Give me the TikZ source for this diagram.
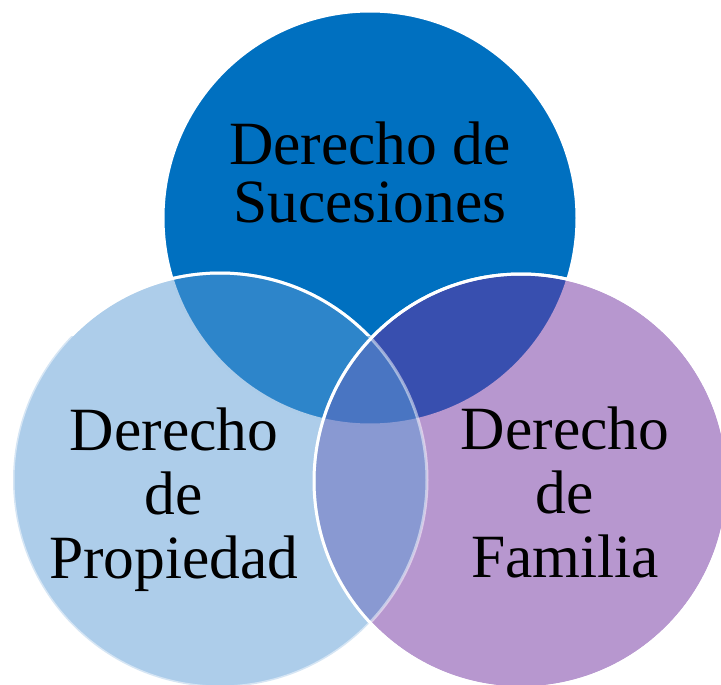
\documentclass[tikz,border=0pt]{standalone}
\usepackage{fontspec}
\setmainfont{Liberation Serif}
\definecolor{sucblue}{HTML}{0070C0}
\definecolor{propblue}{HTML}{5B9BD5}
\definecolor{fampurple}{HTML}{7030A0}
\begin{document}
\begin{tikzpicture}[x=1pt, y=-1pt,
      set/.style={circle, minimum size=414pt, inner sep=0pt, draw=white, line width=3pt},
      rim/.style={white, line width=3pt},
      normal/.style={black, align=center, inner sep=0pt},
      top text/.style={normal, font=\fontsize{61.5}{58}\selectfont},
      side text/.style={normal, font=\fontsize{61.5}{64}\selectfont}]
    \useasboundingbox (0,0) rectangle (721,685);
    % the three sets
    \node[set, fill=sucblue] (suc) at (370,218) {};
    \node[set, fill=fampurple, fill opacity=.5] (fam) at (521,481) {};
    \node[set, fill=propblue, fill opacity=.5, draw opacity=.5] (prop) at (220,480) {};
    % rims on top
    \draw[rim] (fam.center) circle[radius=207];
    \begin{scope}
      \clip (0,0) rectangle (721,335);
      \draw[rim] (prop.center) circle[radius=207];
    \end{scope}
    % labels
    \node[top text] (suclabel) at (370,172) {Derecho de\\Sucesiones};
    \node[side text] (proplabel) at (174,499.5) {Derecho\\de\\Propiedad};
    \node[side text] (famlabel) at (565,492.5) {Derecho\\de\\Familia};
\end{tikzpicture}
\end{document}
